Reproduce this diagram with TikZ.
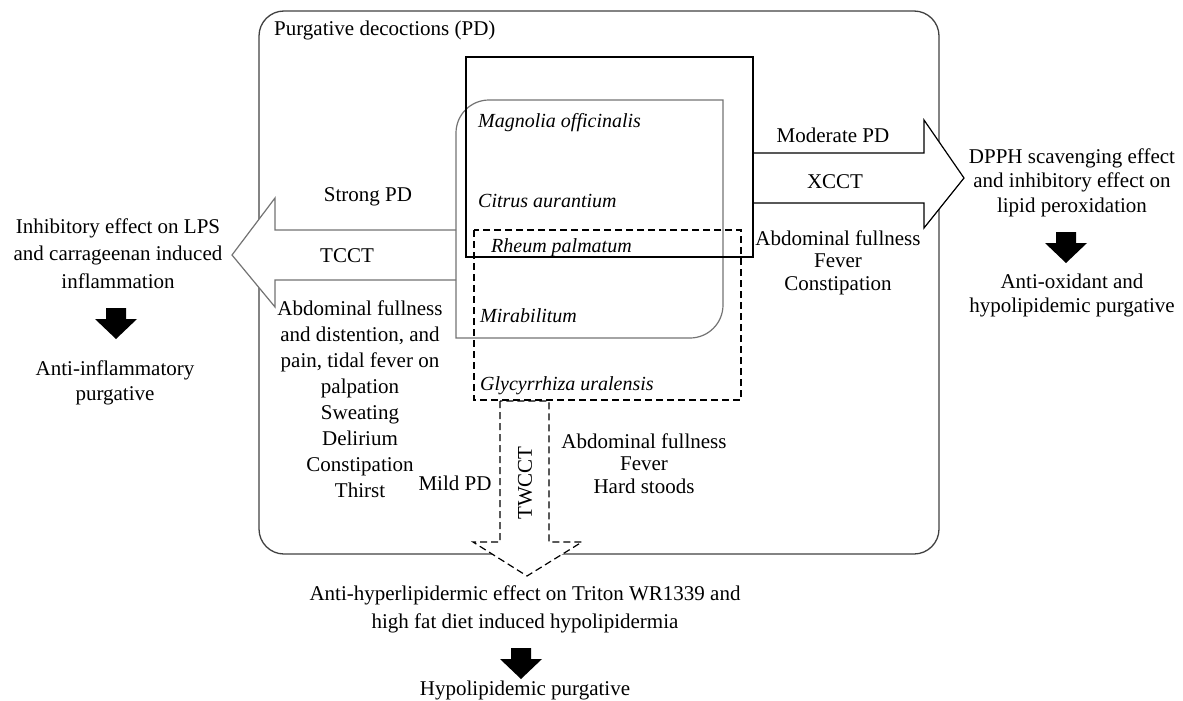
\documentclass[tikz,border=0pt]{standalone}
\usepackage{fontspec}
\setmainfont{Liberation Serif}
\usetikzlibrary{positioning}

\begin{document}
\begin{tikzpicture}[x=1pt, y=-1pt,
    txt/.style={font=\fontsize{21}{26}\selectfont, inner sep=0pt, align=center},
    herb/.style={font=\fontsize{20}{24}\selectfont\itshape, inner sep=0pt,
                 anchor=base west},
    blockarrow/.style={draw, line width=1.2pt, fill=white, line join=miter},
    dashedline/.style={line width=1.2pt, dash pattern=on 7pt off 4pt},
    resultarrow/.pic={\fill (-10,0) -- (10,0) -- (10,11) -- (21,11)
                       -- (0,31) -- (-21,11) -- (-10,11) -- cycle;}]
    \useasboundingbox (0,0) rectangle (1183,701);
    % outer frame
    \draw[black!75, line width=1.3pt, rounded corners=25pt]
      (259,11) rectangle (939,554);
    \node[txt, anchor=base west] (title) at (274,36)
      {Purgative decoctions (PD)};
    % block arrows
    \draw[blockarrow, draw=black!55] (456,230) -- (275,230) -- (275,198)
      -- (232,255) -- (275,307) -- (275,280) -- (456,280);
    \draw[blockarrow] (753,153) -- (924,153) -- (924,120)
      -- (964,178) -- (924,228) -- (924,203) -- (753,203);
    \draw[blockarrow, dashedline] (500,401) -- (500,542) -- (473,542)
      -- (527,576) -- (582,542) -- (549,542) -- (549,401) -- cycle;
    % herb groups
    \draw[black!55, line width=1.2pt] (456,338) -- (456,133)
      arc[start angle=180, end angle=270, radius=33] -- (723,100)
      -- (723,305) arc[start angle=0, end angle=90, radius=33] -- cycle;
    \draw[line width=1.3pt] (466,57) rectangle (753,257);
    \draw[dashedline] (474,230) rectangle (741,400);
    \node[herb] (magnolia) at (478,127) {Magnolia officinalis};
    \node[herb] (citrus) at (478,207) {Citrus aurantium};
    \node[herb] (rheum) at (491,252) {Rheum palmatum};
    \node[herb] (mirab) at (480,322) {Mirabilitum};
    \node[herb] (glycy) at (480,390) {Glycyrrhiza uralensis};
    % TCCT
    \node[txt, anchor=base] (strong) at (368,201) {Strong PD};
    \node[txt, anchor=base] (tcct) at (347,262) {TCCT};
    \node[txt] (tcctsym) at (360,399.4)
      {Abdominal fullness\\and distention, and\\pain, tidal fever on\\
       palpation\\Sweating\\Delirium\\Constipation\\Thirst};
    \node[txt, font=\fontsize{21}{27.5}\selectfont] (inhib) at (118,253.4)
      {Inhibitory effect on LPS\\and carrageenan induced\\inflammation};
    \pic at (116,308) {resultarrow};
    \node[txt, font=\fontsize{21}{25}\selectfont] (antiinf) at (115,382.7)
      {Anti-inflammatory\\purgative};
    % XCCT
    \node[txt, anchor=base] (moderate) at (833,142) {Moderate PD};
    \node[txt, anchor=base] (xcct) at (835,188) {XCCT};
    \node[txt, font=\fontsize{21}{22.5}\selectfont] (xcctsym) at (838,262.7)
      {Abdominal fullness\\Fever\\Constipation};
    \node[txt, font=\fontsize{21}{24.5}\selectfont] (dpph) at (1072,182.7)
      {DPPH scavenging effect\\and inhibitory effect on\\lipid peroxidation};
    \pic at (1066,232) {resultarrow};
    \node[txt, font=\fontsize{21}{24}\selectfont] (antiox) at (1072,295.2)
      {Anti-oxidant and\\hypolipidemic purgative};
    % TWCCT
    \node[txt, anchor=base] (mild) at (455,490) {Mild PD};
    \node[txt, rotate=90] (twcct) at (525,483) {TWCCT};
    \node[txt, font=\fontsize{21}{22.5}\selectfont] (twcctsym) at (644,463.4)
      {Abdominal fullness\\Fever\\Hard stoods};
    \node[txt, font=\fontsize{21}{28}\selectfont] (antihyp) at (525,609.2)
      {Anti-hyperlipidermic effect on Triton WR1339 and\\
       high fat diet induced hypolipidermia};
    \pic at (521,648) {resultarrow};
    \node[txt, anchor=base] (hypo) at (525,695) {Hypolipidemic purgative};
\end{tikzpicture}
\end{document}
